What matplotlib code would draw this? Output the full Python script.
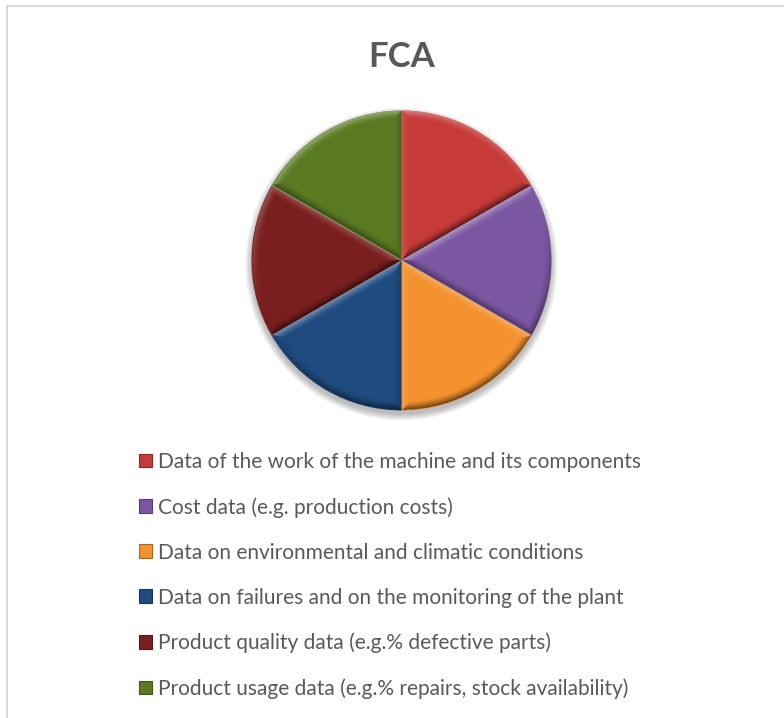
import numpy as np
import matplotlib
matplotlib.use("Agg")
import matplotlib.pyplot as plt
from matplotlib.patches import Patch, Rectangle, Circle
from matplotlib.colors import to_rgb

plt.rcParams['font.family'] = ['Lato', 'DejaVu Sans']

# data
title = "FCA"
categories = [
    "Data of the work of the machine and its components",
    "Cost data (e.g. production costs)",
    "Data on environmental and climatic conditions",
    "Data on failures and on the monitoring of the plant",
    "Product quality data (e.g.% defective parts)",
    "Product usage data (e.g.% repairs, stock availability)",
]
values = [1, 1, 1, 1, 1, 1]
colors = ['#C73A3A', '#7B57A2', '#F3922E', '#1F4B7F', '#7A1F1F', '#5A7A22']

W, H = 784, 718
fig = plt.figure(figsize=(W / 100, H / 100), dpi=100)

# light grey chart frame (cut off on right and bottom)
fig.patches.append(Rectangle((7 / W, -0.1), 1.2, (H - 6) / H + 0.1,
                             transform=fig.transFigure, fill=False,
                             edgecolor='#D9D9D9', linewidth=1.5))

fig.text(402 / W, 1 - 57 / H, title, ha='center', va='center',
         fontsize=25, fontweight='bold', color='#595959')

# pie axes, centre at (401.5, 260.5) px, radius 150 px
cx, cy, R = 401.5, 260.5, 150
half = 160
ax = fig.add_axes([(cx - half) / W, (H - cy - half) / H, 2 * half / W, 2 * half / H])
lim = half / R

# soft shadow
for k in range(8):
    ax.add_patch(Circle((0.0, -0.025), 1.0 + 0.006 * k, color='black',
                        alpha=0.035, zorder=0, linewidth=0))

wedges, _ = ax.pie(values, colors=colors, startangle=90, counterclock=False,
                   radius=1.0, wedgeprops=dict(linewidth=0))
for w in wedges:
    w.set_zorder(2)

# bevel shading overlay
n = 700
xs = np.linspace(-lim, lim, n)
X, Y = np.meshgrid(xs, xs[::-1])
r = np.hypot(X, Y)
th = np.degrees(np.arctan2(Y, X))
L = np.array([-0.35, 1.0])
L = L / np.linalg.norm(L)
bw = 0.06
shade = np.zeros_like(X)
for w in wedges:
    t1, t2 = w.theta1, w.theta2
    rel = (th - t1) % 360
    span = (t2 - t1) % 360 or 360
    inside = (rel <= span) & (r <= 1.0)
    a = np.radians(th)
    d_arc = 1.0 - r
    d1 = r * np.sin(np.radians(rel))
    d2 = r * np.sin(np.radians(span - rel))
    n_arc = np.cos(a) * L[0] + np.sin(a) * L[1]
    a1 = np.radians(t1 - 90)
    a2 = np.radians(t2 + 90)
    n1 = np.cos(a1) * L[0] + np.sin(a1) * L[1]
    n2 = np.cos(a2) * L[0] + np.sin(a2) * L[1]
    D = np.stack([d_arc, d1, d2])
    N = np.stack([n_arc, np.full_like(X, n1), np.full_like(X, n2)])
    idx = np.argmin(D, axis=0)
    dmin = np.take_along_axis(D, idx[None], 0)[0]
    nmin = np.take_along_axis(N, idx[None], 0)[0]
    fall = np.clip(1 - dmin / bw, 0, 1) ** 1.5
    shade = np.where(inside, nmin * fall, shade)

img = np.zeros((n, n, 4))
pos = shade > 0
img[pos, :3] = 1.0
img[..., 3] = np.abs(shade) * np.where(pos, 0.4, 0.6)
im = ax.imshow(img, extent=[-lim, lim, -lim, lim], zorder=3, interpolation='bilinear')
im.set_clip_path(Circle((0, 0), 1.0, transform=ax.transData))

ax.set_xlim(-lim, lim)
ax.set_ylim(-lim, lim)
ax.set_aspect('equal')
ax.axis('off')

# legend
handles = [Patch(facecolor=c, edgecolor=tuple(0.7 * v for v in to_rgb(c)), linewidth=0.8)
           for c in colors]
fig.legend(handles, categories, loc='upper left',
           bbox_to_anchor=(139 / W, 1 - 452 / H), frameon=False,
           fontsize=15.0, labelcolor='#595959', handlelength=0.63, handleheight=0.63,
           handletextpad=0.3, labelspacing=1.2, borderpad=0, borderaxespad=0)

fig.savefig("out.png", dpi=100)
